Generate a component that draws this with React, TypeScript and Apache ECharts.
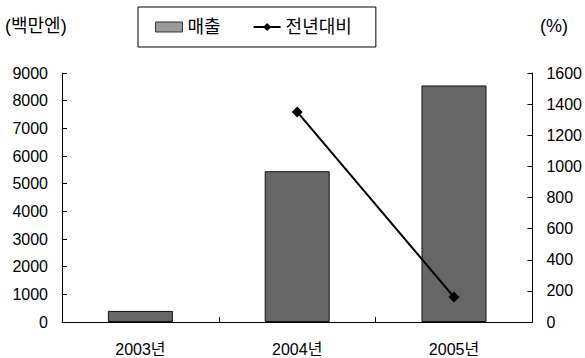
import React, { useEffect, useRef } from "react";
import * as echarts from "echarts";

const categories = ["2003년", "2004년", "2005년"];
const salesValues = [400, 5450, 8550];
const yoyValues: (number | null)[] = [null, 1350, 160];
const leftTicks = { min: 0, max: 9000, interval: 1000 };
const rightTicks = { min: 0, max: 1600, interval: 200 };

const FONT = "'Liberation Sans', 'Noto Sans CJK KR', Arial, sans-serif";
const plain = (v: number) => String(v);

export default function App() {
  const ref = useRef<HTMLDivElement>(null);
  useEffect(() => {
    if (!ref.current) return;
    const chart = echarts.init(ref.current, null, { renderer: "svg" });
    chart.setOption({
      animation: false,
      backgroundColor: "#fff",
      grid: { left: 62, right: 52, top: 73, bottom: 36 },
      legend: {
        left: 138,
        top: 7,
        borderColor: "#000",
        borderWidth: 1,
        borderRadius: 0,
        padding: [11, 24, 11, 17],
        itemGap: 32,
        itemWidth: 27,
        itemHeight: 10,
        textStyle: { fontFamily: FONT, fontSize: 18, color: "#000" },
        data: [
          { name: "매출", icon: "rect", itemStyle: { color: "#9a9a9a", borderColor: "#333", borderWidth: 1 } },
          { name: "전년대비" },
        ],
      },
      graphic: [
        { type: "text", left: 5, top: 17, style: { text: "(백만엔)", font: `18px ${FONT}`, fill: "#000" } },
        { type: "text", left: 540, top: 17, style: { text: "(%)", font: `18px ${FONT}`, fill: "#000" } },
      ],
      xAxis: {
        type: "category",
        data: categories,
        axisLine: { lineStyle: { color: "#000", width: 1 } },
        axisTick: { show: true, inside: true, length: 5, alignWithLabel: false, lineStyle: { color: "#000" } },
        axisLabel: { color: "#000", fontFamily: FONT, fontSize: 16, margin: 19 },
      },
      yAxis: [
        {
          type: "value",
          ...leftTicks,
          axisLine: { show: true, lineStyle: { color: "#000" } },
          axisTick: { show: true, inside: true, length: 5, lineStyle: { color: "#000" } },
          splitLine: { show: false },
          axisLabel: { color: "#000", fontFamily: FONT, fontSize: 16, margin: 14, formatter: plain },
        },
        {
          type: "value",
          ...rightTicks,
          position: "right",
          axisLine: { show: true, lineStyle: { color: "#000" } },
          axisTick: { show: true, inside: true, length: 5, lineStyle: { color: "#000" } },
          splitLine: { show: false },
          axisLabel: { color: "#000", fontFamily: FONT, fontSize: 16, margin: 14, formatter: plain },
        },
      ],
      series: [
        {
          name: "매출",
          type: "bar",
          data: salesValues,
          barWidth: 65,
          itemStyle: { color: "#666666", borderColor: "#111", borderWidth: 1 },
        },
        {
          name: "전년대비",
          type: "line",
          yAxisIndex: 1,
          data: yoyValues,
          connectNulls: false,
          symbol: "diamond",
          symbolSize: 11,
          lineStyle: { color: "#000", width: 2 },
          itemStyle: { color: "#000" },
        },
      ],
    });
    return () => chart.dispose();
  }, []);
  return <div ref={ref} style={{ width: 585, height: 358, position: "absolute", left: 0, top: 0 }} />;
}
